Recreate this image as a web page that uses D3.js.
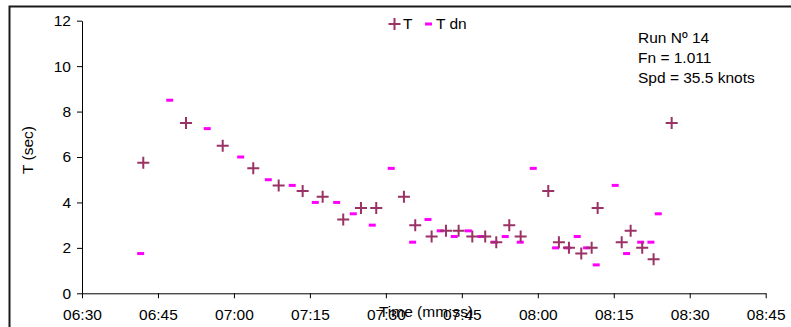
<!DOCTYPE html>
<html>
<head>
<meta charset="utf-8">
<script src="https://cdn.jsdelivr.net/npm/d3@7"></script>
<style>
  html, body { margin: 0; padding: 0; background: #fff; }
  svg { display: block; font-family: "Liberation Sans", Arial, sans-serif; }
</style>
</head>
<body>
<svg id="chart" width="791" height="327"></svg>
<script>
// ---- Data ----
const tTimes = ["06:42:06","06:50:32","06:57:47","07:03:49","07:08:50","07:13:34","07:17:31","07:21:35","07:25:05","07:28:06",
                "07:33:34","07:35:48","07:39:02","07:41:52","07:44:22","07:47:04","07:49:37","07:51:48","07:54:22","07:56:37",
                "08:02:04","08:04:10","08:06:09","08:08:35","08:10:38","08:11:49","08:16:34","08:18:20","08:20:37","08:22:52","08:26:26"];
const tValues = [5.75,7.5,6.5,5.5,4.75,4.5,4.25,3.25,3.75,3.75,
                 4.25,3.0,2.5,2.75,2.75,2.5,2.5,2.25,3.0,2.5,
                 4.5,2.25,2.0,1.75,2.0,3.75,2.25,2.75,2.0,1.5,7.5];
const tdnTimes = ["06:41:35","06:47:19","06:54:44","07:01:20","07:06:47","07:11:31","07:16:04","07:20:17","07:23:34","07:27:19",
                  "07:31:04","07:35:17","07:38:19","07:40:44","07:43:30","07:46:16","07:48:47","07:51:24","07:53:34","07:56:32",
                  "07:59:06","08:03:31","08:05:49","08:07:47","08:09:38","08:11:32","08:15:17","08:17:32","08:20:19","08:22:20","08:23:47"];
const tdnValues = [1.75,8.5,7.25,6.0,5.0,4.75,4.0,4.0,3.5,3.0,
                   5.5,2.25,3.25,2.75,2.5,2.75,2.5,2.25,2.5,2.25,
                   5.5,2.0,2.0,2.5,2.0,1.25,4.75,1.75,2.25,2.25,3.5];
const xTickLabels = ["06:30","06:45","07:00","07:15","07:30","07:45","08:00","08:15","08:30","08:45"];
const yTickValues = [0,2,4,6,8,10,12];
const seriesNames = ["T","T dn"];
const annotationLines = ["Run Nº 14","Fn = 1.011","Spd = 35.5 knots"];
const xTitle = "Time (mm:ss)";
const yTitle = "T (sec)";

// ---- Setup ----
const parse = d3.timeParse("%H:%M:%S");
const parseHM = d3.timeParse("%H:%M");
const svg = d3.select("#chart");
const pLeft = 82, pRight = 765.7, pTop = 20.7, pBottom = 293.3;

const x = d3.scaleTime()
  .domain([parseHM(xTickLabels[0]), parseHM(xTickLabels[xTickLabels.length - 1])])
  .range([pLeft, pRight]);
const y = d3.scaleLinear().domain([0, 12]).range([pBottom, pTop]);

// outer frame
svg.append("rect")
  .attr("x", 9.5).attr("y", 6.5).attr("width", 800).attr("height", 400)
  .attr("fill", "none").attr("stroke", "#1a1a1a").attr("stroke-width", 2);

// axes
const xAxis = d3.axisBottom(x)
  .tickValues(xTickLabels.map(parseHM))
  .tickFormat(d3.timeFormat("%H:%M"))
  .tickSize(5).tickSizeOuter(0);
const gx = svg.append("g").attr("transform", `translate(0,${pBottom})`).call(xAxis);
gx.selectAll("text").attr("font-size", 15.5).attr("fill", "#000").attr("dy", null).attr("y", 26.5)
  .attr("font-family", "Liberation Sans, Arial, sans-serif");

const yAxis = d3.axisLeft(y).tickValues(yTickValues).tickSize(5).tickSizeOuter(0);
const gy = svg.append("g").attr("transform", `translate(${pLeft},0)`).call(yAxis);
gy.selectAll("text").attr("font-size", 15.5).attr("fill", "#000").attr("x", -11)
  .attr("font-family", "Liberation Sans, Arial, sans-serif");

svg.selectAll(".domain, .tick line").attr("stroke", "#000").attr("stroke-width", 1);

// axis titles
svg.append("text").attr("x", 426).attr("y", 317).attr("text-anchor", "middle")
  .attr("font-size", 15.5).attr("fill", "#000").text(xTitle);
svg.append("text").attr("transform", "translate(33,150) rotate(-90)").attr("text-anchor", "middle")
  .attr("font-size", 15.5).attr("fill", "#000").text(yTitle);

// series
const tData = tTimes.map((t, i) => ({ t: parse(t), v: tValues[i] }));
const tdnData = tdnTimes.map((t, i) => ({ t: parse(t), v: tdnValues[i] }));

const plusColor = "#993366", dashColor = "#FF00FF";

svg.append("g").selectAll("rect").data(tdnData).enter().append("rect")
  .attr("x", d => x(d.t) - 3.5).attr("y", d => y(d.v) - 1.5)
  .attr("width", 7).attr("height", 3).attr("fill", dashColor);

svg.append("g").selectAll("path").data(tData).enter().append("path")
  .attr("d", d => {
    const cx = x(d.t), cy = y(d.v);
    return `M${cx - 6},${cy}H${cx + 6}M${cx},${cy - 6}V${cy + 6}`;
  })
  .attr("stroke", plusColor).attr("stroke-width", 2).attr("fill", "none");

// legend
svg.append("path").attr("d", "M388.5,24H400.5M394.5,18V30")
  .attr("stroke", plusColor).attr("stroke-width", 2);
svg.append("text").attr("x", 403).attr("y", 29).attr("font-size", 15.5).attr("fill", "#000").text(seriesNames[0]);
svg.append("rect").attr("x", 425).attr("y", 22.5).attr("width", 7).attr("height", 3).attr("fill", dashColor);
svg.append("text").attr("x", 436).attr("y", 29).attr("font-size", 15.5).attr("fill", "#000").text(seriesNames[1]);

// annotation
svg.append("g").selectAll("text").data(annotationLines).enter().append("text")
  .attr("x", 638).attr("y", (d, i) => 42.5 + i * 20)
  .attr("font-size", 15.5).attr("fill", "#000").text(d => d);
</script>
</body>
</html>
